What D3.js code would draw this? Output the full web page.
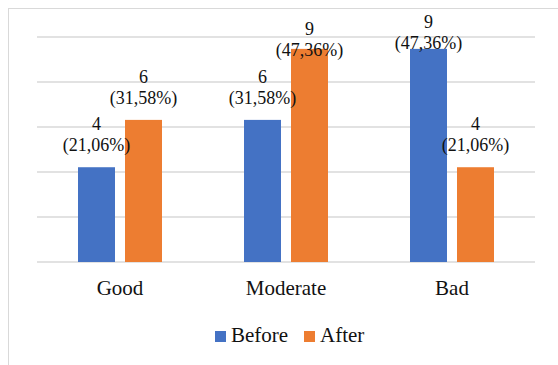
<!DOCTYPE html>
<html><head><meta charset="utf-8">
<script src="https://cdn.jsdelivr.net/npm/d3@7"></script>
<style>
text, tspan { font-family: "Times New Roman", "Liberation Serif", Tinos, serif !important; }
</style>
</head><body style="margin:0">
<svg id="chart" width="558" height="365"></svg>
<script>
const categories = ["Good", "Moderate", "Bad"];
const seriesNames = ["Before", "After"];
const beforeCounts = [4, 6, 9];
const afterCounts = [6, 9, 4];
const beforePct = [21.06, 31.58, 47.36];
const afterPct = [31.58, 47.36, 21.06];
const pctLabels = {Before: ["21,06%", "31,58%", "47,36%"], After: ["31,58%", "47,36%", "21,06%"]};
const yTicks = [0, 10, 20, 30, 40, 50];
const colors = ["#4472C4", "#ED7D31"];
const FONT = '"Times New Roman", "Liberation Serif", Tinos, serif';

const svg = d3.select("#chart").attr("font-family", FONT);
const W = 558, H = 365;
const plot = {left: 37, right: 535, top: 37, bottom: 262};

// outer chart border
svg.append("rect").attr("x", 8.5).attr("y", 8.5).attr("width", W + 20).attr("height", H + 20)
  .attr("fill", "none").attr("stroke", "#d9d9d9").attr("stroke-width", 1);

const y = d3.scaleLinear().domain([0, 50]).range([plot.bottom, plot.top]);
const x0 = d3.scaleBand().domain(categories).range([plot.left, plot.right]).paddingInner(0.494).paddingOuter(0.247);
const x1 = d3.scaleBand().domain(seriesNames).range([0, x0.bandwidth()]).paddingInner(10/47).paddingOuter(0);

// gridlines
svg.append("g").selectAll("line").data(yTicks).join("line")
  .attr("x1", plot.left).attr("x2", plot.right)
  .attr("y1", d => Math.round(y(d))).attr("y2", d => Math.round(y(d)))
  .attr("stroke", "#d9d9d9").attr("stroke-width", 1.5);

const rows = categories.map((c, i) => ({
  cat: c,
  vals: [
    {s: "Before", count: beforeCounts[i], pct: beforePct[i], label: pctLabels.Before[i], si: 0},
    {s: "After", count: afterCounts[i], pct: afterPct[i], label: pctLabels.After[i], si: 1}
  ]
}));

const groups = svg.append("g").selectAll("g").data(rows).join("g")
  .attr("transform", d => `translate(${x0(d.cat)},0)`);

groups.selectAll("rect").data(d => d.vals).join("rect")
  .attr("x", d => x1(d.s)).attr("width", x1.bandwidth())
  .attr("y", d => y(d.pct)).attr("height", d => plot.bottom - y(d.pct))
  .attr("fill", d => colors[d.si]);

const lab = groups.selectAll("text").data(d => d.vals).join("text")
  .attr("text-anchor", "middle")
  .style("font-family", FONT)
  .style("font-size", "18px").style("fill", "#111");
lab.each(function(d) {
  const cx = x1(d.s) + x1.bandwidth() / 2;
  const top = y(d.pct);
  const b1 = Math.max(top - 37, d.si === 0 ? 28 : 35);
  const t = d3.select(this);
  t.append("tspan").attr("x", cx).attr("y", b1).text(d.count);
  t.append("tspan").attr("x", cx).attr("y", b1 + 21).text("(" + d.label + ")");
});

// category axis labels
svg.append("g").selectAll("text").data(categories).join("text")
  .attr("x", d => x0(d) + x0.bandwidth() / 2).attr("y", 295)
  .attr("text-anchor", "middle")
  .style("font-family", FONT)
  .style("font-size", "21px").style("fill", "#111").text(d => d);

// legend
const legX = [215, 304];
const leg = svg.append("g").selectAll("g").data(seriesNames).join("g")
  .attr("transform", (d, i) => `translate(${legX[i]},331)`);
leg.append("rect").attr("width", 11).attr("height", 11).attr("fill", (d, i) => colors[i]);
leg.append("text").attr("x", 16).attr("y", 11)
  .style("font-family", FONT)
  .style("font-size", "21px").style("fill", "#111").text(d => d);
</script>
</body></html>
